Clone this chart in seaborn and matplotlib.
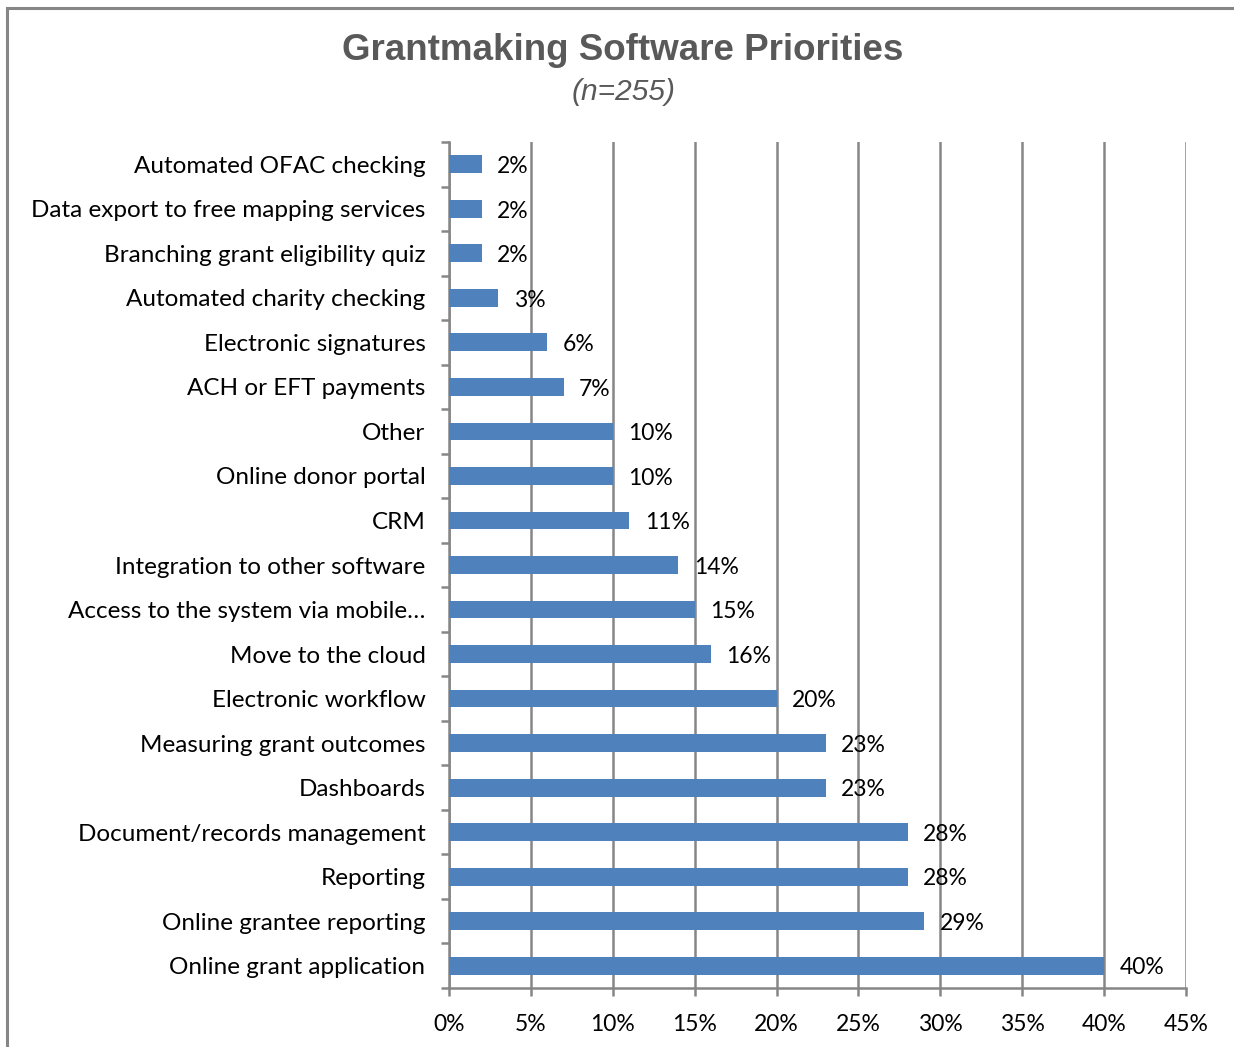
import matplotlib
matplotlib.use("Agg")
import matplotlib.pyplot as plt
import seaborn as sns
import pandas as pd
from matplotlib.patches import Rectangle
from matplotlib.ticker import FixedLocator, PercentFormatter

categories = [
    "Automated OFAC checking",
    "Data export to free mapping services",
    "Branching grant eligibility quiz",
    "Automated charity checking",
    "Electronic signatures",
    "ACH or EFT payments",
    "Other",
    "Online donor portal",
    "CRM",
    "Integration to other software",
    "Access to the system via mobile…",
    "Move to the cloud",
    "Electronic workflow",
    "Measuring grant outcomes",
    "Dashboards",
    "Document/records management",
    "Reporting",
    "Online grantee reporting",
    "Online grant application",
]
values = [2, 2, 2, 3, 6, 7, 10, 10, 11, 14, 15, 16, 20, 23, 23, 28, 28, 29, 40]
x_ticks = [0, 5, 10, 15, 20, 25, 30, 35, 40, 45]

df = pd.DataFrame({"category": categories, "value": values})

sns.set_theme(style="white")
label_font = ["Lato", "DejaVu Sans"]
plt.rcParams["font.family"] = label_font

fig = plt.figure(figsize=(12.34, 10.47), dpi=100)
ax = fig.add_axes([449 / 1234, 1 - 988 / 1047, (1186 - 449) / 1234, (988 - 142) / 1047])

sns.barplot(data=df, x="value", y="category", orient="h", color="#4F81BD",
            saturation=1, width=0.4, linewidth=0, ax=ax, zorder=3)

ax.set_xlim(0, 45)
ax.set_ylim(len(categories) - 0.5, -0.5)
ax.set_xticks(x_ticks)
ax.xaxis.set_major_formatter(PercentFormatter(decimals=0))
ax.set_xlabel("")
ax.set_ylabel("")

grid_c = "#868686"
ax.xaxis.grid(True, color=grid_c, linewidth=1.8, zorder=0)
ax.yaxis.grid(False)
for s in ["top", "right"]:
    ax.spines[s].set_visible(False)
ax.spines["left"].set_color(grid_c)
ax.spines["left"].set_linewidth(1.8)
ax.spines["bottom"].set_color(grid_c)
ax.spines["bottom"].set_linewidth(1.8)

ax.tick_params(axis="x", which="major", length=6, width=1.8, color=grid_c,
               labelsize=16.5, labelcolor="black", pad=13, bottom=True)
ax.tick_params(axis="y", which="major", length=0, labelsize=17.5, labelcolor="black", pad=17)
ax.yaxis.set_minor_locator(FixedLocator([i - 0.5 for i in range(len(categories) + 1)]))
ax.tick_params(axis="y", which="minor", length=6, width=1.8, color=grid_c, left=True)

for i, v in enumerate(values):
    ax.text(v + 0.95, i + 0.05, f"{v}%", va="center", ha="left", fontsize=16.5,
            color="black", zorder=4)

fig.text(0.505, 1 - 50 / 1047, "Grantmaking Software Priorities", ha="center", va="center",
         fontsize=26.5, fontweight="bold", color="#595959", family=["Liberation Sans", "DejaVu Sans"])
fig.text(0.505, 1 - 92 / 1047, "(n=255)", ha="center", va="center",
         fontsize=21.5, fontstyle="italic", color="#595959", family=["Liberation Sans", "DejaVu Sans"])

fig.patches.append(Rectangle((7 / 1234, -0.1), 1.2, 1 - 8 / 1047 + 0.1, transform=fig.transFigure,
                             fill=False, edgecolor="#868686", linewidth=2.2))

fig.savefig("out.png", dpi=100)
